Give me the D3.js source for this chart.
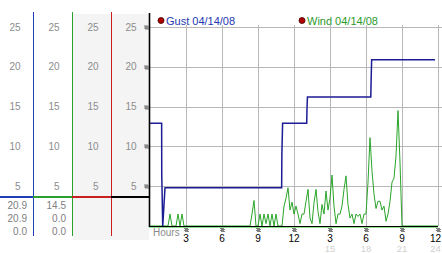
<!DOCTYPE html>
<html>
<head>
<meta charset="utf-8">
<script src="https://cdn.jsdelivr.net/npm/d3@7"></script>
<style>
body { margin: 0; background: #fff; }
svg { display: block; }
text { font-family: "Liberation Sans", Arial, sans-serif; }
</style>
</head>
<body>
<svg width="442" height="253"></svg>
<script>
// gust readings, [hour, mph]
var gust = [[0,12.9],[0.97,12.9],[0.98,6.4],[1.06,0],[1.25,4.8],[10.97,4.8],[10.99,9],[11.05,12.9],
            [13.06,12.9],[13.08,14.6],[13.12,16.2],[18.4,16.2],[18.43,18.5],[18.47,20.9],[23.75,20.9]];

// wind readings every 10 minutes from 00:00
var wind = [
  0,0,0,0,0,0,0,0,0,0,1.5,0,
  0,0,1.5,0,1.5,0,0,0,0,0,0,0,
  0,0,0,0,0,0,0,0,0,0,0,0,
  0,0,0,0,0,0,0,0,0,0,0,0,
  0,0,0,1.5,3.2,0,0,1.5,0,1.5,0.3,1.5,
  0,1.5,0,1.5,0,0,0,2.5,3.5,4.8,2.0,3.0,
  1.5,2.5,1.5,0.3,1.5,1.5,3.1,4.6,1.0,0.3,2.9,4.6,
  1.8,0.3,2.7,1.5,4.4,2.0,3.5,6.4,2.5,0.3,1.5,1.5,
  2.5,4.6,6.3,2.7,1.0,1.5,0.3,1.5,1.2,1.5,0.3,1.5,
  1.5,5.5,11.1,6.9,4.0,2.2,3.1,3.1,2.0,2.5,0.6,1.5,
  3.1,5.5,6.0,8.8,14.5,8.0,0,0,0,0,0,0,
  0,0,0,0,0,0,0,0,0,0,0,0,
  0
];
var windStep = 1 / 6;

var yTicks = [5, 10, 15, 20, 25];
var xTicks = [3, 6, 9, 12, 15, 18, 21, 24];
var tickTop = ["3", "6", "9", "12", "3", "6", "9", "12"];
var tickBottom = ["", "", "", "", "15", "18", "21", "24"];

var gustStats = ["20.9", "20.9", "0.0"];
var windStats = ["14.5", "0.0", "0.0"];
var legendNames = ["Gust 04/14/08", "Wind 04/14/08"];

var svg = d3.select("svg");

var x = d3.scaleLinear().domain([0, 24]).range([150, 438]),
    y = d3.scaleLinear().domain([0, 25]).range([226, 27]);

var colEdges = [0, 33, 72, 111, 149],
    colColors = ["#1f3fb4", "#2ca02c", "#c82020", "#000"];

// left scale panel
svg.append("rect").attr("x", 73).attr("y", 14).attr("width", 76).attr("height", 226).attr("fill", "#f4f4f4");

[0, 1, 2].forEach(function(i) {
  svg.append("line")
    .attr("x1", colEdges[i + 1] + 0.5).attr("x2", colEdges[i + 1] + 0.5)
    .attr("y1", 12).attr("y2", 236)
    .attr("stroke", colColors[i]).attr("stroke-width", 1);
});

[0, 1, 2, 3].forEach(function(i) {
  svg.append("line")
    .attr("x1", colEdges[i]).attr("x2", colEdges[i + 1])
    .attr("y1", 197).attr("y2", 197)
    .attr("stroke", colColors[i]).attr("stroke-width", 2);
  svg.selectAll(".lab" + i)
    .data(yTicks)
    .enter().append("text")
      .attr("x", colEdges[i + 1] - 12.5)
      .attr("y", function(d) { return y(d); })
      .attr("dy", "0.36em")
      .attr("text-anchor", "end")
      .attr("font-size", "10px")
      .attr("fill", "#8c8c8c")
      .text(function(d) { return d; });
});

[gustStats, windStats].forEach(function(vals, i) {
  svg.selectAll(".stat" + i)
    .data(vals)
    .enter().append("text")
      .attr("x", colEdges[i + 1] - 6)
      .attr("y", function(d, j) { return 205 + j * 13.3; })
      .attr("dy", "0.36em")
      .attr("text-anchor", "end")
      .attr("font-size", "10px")
      .attr("fill", "#808080")
      .text(function(d) { return d; });
});

// grid
var g = svg.append("g");
g.selectAll(".hgrid")
  .data(yTicks)
  .enter().append("line")
    .attr("x1", 150).attr("x2", 442)
    .attr("y1", function(d) { return Math.round(y(d)) + 0.5; })
    .attr("y2", function(d) { return Math.round(y(d)) + 0.5; })
    .attr("stroke", "#b8b8b8");
g.selectAll(".vgrid")
  .data(xTicks)
  .enter().append("line")
    .attr("x1", function(d) { return Math.round(x(d)) + 0.5; })
    .attr("x2", function(d) { return Math.round(x(d)) + 0.5; })
    .attr("y1", 25).attr("y2", 226)
    .attr("stroke", "#b8b8b8");

// data lines
var line = d3.line()
    .x(function(d) { return x(d[0]); })
    .y(function(d) { return y(d[1]); });

svg.append("line").attr("x1", 149).attr("x2", 438).attr("y1", 227.5).attr("y2", 227.5)
  .attr("stroke", "#8ee08e");

svg.append("path")
  .attr("d", line(wind.map(function(v, i) { return [i * windStep, v]; })))
  .attr("fill", "none").attr("stroke", "#2aa52a").attr("stroke-width", 1);

svg.append("path")
  .attr("d", line(gust))
  .attr("fill", "none").attr("stroke", "#1c1c94").attr("stroke-width", 1.5);

// axes
svg.append("line").attr("x1", 149.5).attr("x2", 149.5).attr("y1", 13).attr("y2", 227)
  .attr("stroke", "#000").attr("stroke-width", 1.6);
svg.append("line").attr("x1", 149).attr("x2", 438).attr("y1", 226.5).attr("y2", 226.5)
  .attr("stroke", "#000").attr("stroke-width", 1.2);

function marker(cx, cy) {
  var m = svg.append("g").attr("transform", "translate(" + (cx - 1.5) + "," + (cy - 1.5) + ")");
  [[0,0],[2,0],[1,1],[0,2],[2,2],[3,1],[1,3],[3,3]].forEach(function(p) {
    m.append("rect").attr("x", p[0]).attr("y", p[1]).attr("width", 1).attr("height", 1).attr("fill", "#000");
  });
}
yTicks.forEach(function(v) { marker(146, Math.round(y(v))); });
xTicks.forEach(function(h) { marker(Math.round(x(h)), 229.5); });

function labelX(d) { return Math.min(x(d), 435.5); }

svg.selectAll(".xt")
  .data(xTicks)
  .enter().append("text")
    .attr("x", labelX)
    .attr("y", 238).attr("dy", "0.36em")
    .attr("text-anchor", "middle")
    .attr("font-size", "10px")
    .attr("fill", "#000")
    .text(function(d, i) { return tickTop[i]; });
svg.selectAll(".xb")
  .data(xTicks)
  .enter().append("text")
    .attr("x", labelX)
    .attr("y", 248.5).attr("dy", "0.36em")
    .attr("text-anchor", "middle")
    .attr("font-size", "9.5px")
    .attr("fill", "#d0d0d0")
    .text(function(d, i) { return tickBottom[i]; });

svg.append("text").attr("x", 153).attr("y", 232).attr("dy", "0.36em")
  .attr("font-size", "10px").attr("fill", "#8c8c8c").text("Hours");

// legend
var legendX = [161, 302], legendColors = ["#2438b4", "#2a9a2a"];
legendNames.forEach(function(name, i) {
  svg.append("circle").attr("cx", legendX[i]).attr("cy", 20.5).attr("r", 3)
    .attr("fill", "#b00000").attr("stroke", "#400000").attr("stroke-width", 0.8);
  svg.append("text").attr("x", legendX[i] + 5).attr("y", 24.5)
    .attr("font-size", "11px").attr("fill", legendColors[i]).text(name);
});
</script>
</body>
</html>
